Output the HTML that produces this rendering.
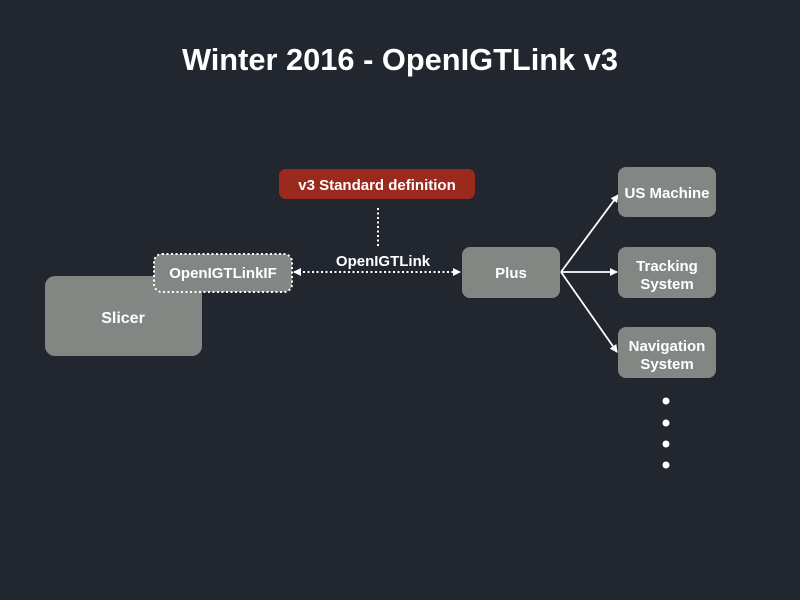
<!DOCTYPE html>
<html><head><style>
body{margin:0;background:#22262f;}
svg{display:block}
text{font-family:"Liberation Sans",sans-serif;font-weight:bold;fill:#fff;text-anchor:middle}
</style></head><body>
<svg width="800" height="600" viewBox="0 0 800 600">
<rect width="800" height="600" fill="#22262f"/>
<text x="400" y="70" font-size="30.8">Winter 2016 - OpenIGTLink v3</text>
<defs><marker id="a" markerWidth="8" markerHeight="8" refX="7" refY="4" orient="auto" markerUnits="userSpaceOnUse"><path d="M0,0L8,4L0,8z" fill="#fff"/></marker>
<marker id="b" markerWidth="8" markerHeight="8" refX="1" refY="4" orient="auto" markerUnits="userSpaceOnUse"><path d="M8,0L0,4L8,8z" fill="#fff"/></marker></defs>
<rect x="45" y="276" width="157" height="80" rx="10" fill="#838784"/>
<text x="123" y="323" font-size="16">Slicer</text>
<rect x="154" y="254" width="138" height="38" rx="8" fill="#838784" stroke="#fff" stroke-width="2" stroke-dasharray="2,2.5"/>
<text x="223" y="278" font-size="15">OpenIGTLinkIF</text>
<rect x="279" y="169" width="196" height="30" rx="7" fill="#9b2a1e"/>
<text x="377" y="190" font-size="15">v3 Standard definition</text>
<line x1="378" y1="208" x2="378" y2="248" stroke="#fff" stroke-width="2" stroke-dasharray="2,2.5"/>
<text x="383" y="266" font-size="15">OpenIGTLink</text>
<line x1="294" y1="272" x2="460" y2="272" stroke="#fff" stroke-width="2" stroke-dasharray="2,2.5" marker-start="url(#b)" marker-end="url(#a)"/>
<rect x="462" y="247" width="98" height="51" rx="8" fill="#838784"/>
<text x="511" y="278" font-size="15">Plus</text>
<g stroke="#fff" stroke-width="1.8">
<line x1="561" y1="272" x2="618" y2="195" marker-end="url(#a)"/>
<line x1="561" y1="272" x2="617" y2="272" marker-end="url(#a)"/>
<line x1="561" y1="272" x2="617" y2="352" marker-end="url(#a)"/>
</g>
<rect x="618" y="167" width="98" height="50" rx="8" fill="#838784"/>
<text x="667" y="198" font-size="15">US Machine</text>
<rect x="618" y="247" width="98" height="51" rx="8" fill="#838784"/>
<text x="667" y="271" font-size="15">Tracking</text>
<text x="667" y="289" font-size="15">System</text>
<rect x="618" y="327" width="98" height="51" rx="8" fill="#838784"/>
<text x="667" y="351" font-size="15">Navigation</text>
<text x="667" y="369" font-size="15">System</text>
<g fill="#fff"><circle cx="666" cy="401" r="3.5"/><circle cx="666" cy="423" r="3.5"/><circle cx="666" cy="444" r="3.5"/><circle cx="666" cy="465" r="3.5"/></g>
</svg>
</body></html>
